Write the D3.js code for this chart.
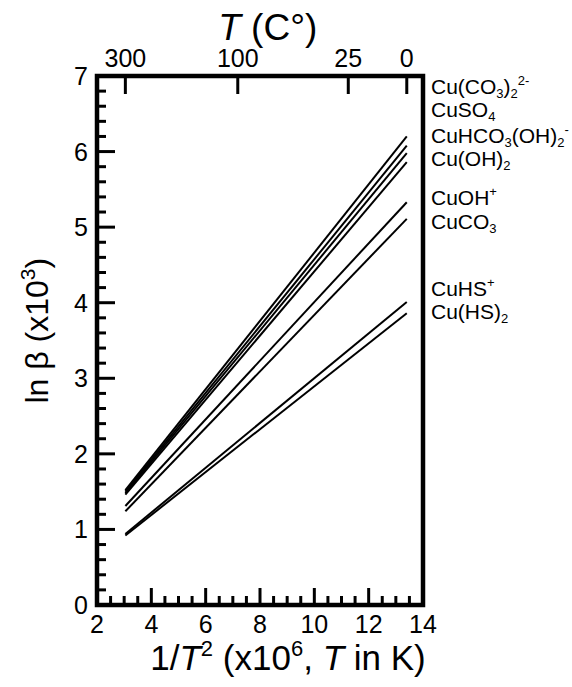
<!DOCTYPE html>
<html>
<head>
<meta charset="utf-8">
<script src="https://cdn.jsdelivr.net/npm/d3@7"></script>
<style>
  body { margin: 0; background: #fff; }
  text { font-family: 'Liberation Sans', Arial, sans-serif; fill: #000; }
</style>
</head>
<body>
<div id="chart"></div>
<script>
// species, in order from top to bottom at the right end
let species = ['Cu(CO3)2 2-', 'CuSO4', 'CuHCO3(OH)2 -', 'Cu(OH)2', 'CuOH+', 'CuCO3', 'CuHS+', 'Cu(HS)2']
// ln beta (x10^3) at 300 C and at 0 C
let lnBeta300 = [1.52, 1.50, 1.48, 1.46, 1.31, 1.24, 0.94, 0.92]
let lnBeta0 = [6.20, 6.08, 5.98, 5.86, 5.33, 5.11, 4.01, 3.86]
// temperatures (C) of the two ends and of the top ticks
let tEnds = [300, 0]
let topTicksC = [300, 100, 25, 0]
let xTicks = [2, 4, 6, 8, 10, 12, 14]
let yTicks = [0, 1, 2, 3, 4, 5, 6, 7]

// label text broken into pieces: 0 normal, -1 subscript, 1 superscript
let labelParts = [
  [['Cu(CO', 0], ['3', -1], [')', 0], ['2', -1], ['2-', 1]],
  [['CuSO', 0], ['4', -1]],
  [['CuHCO', 0], ['3', -1], ['(OH)', 0], ['2', -1], ['-', 1]],
  [['Cu(OH)', 0], ['2', -1]],
  [['CuOH', 0], ['+', 1]],
  [['CuCO', 0], ['3', -1]],
  [['CuHS', 0], ['+', 1]],
  [['Cu(HS)', 0], ['2', -1]]
]
// where the labels sit (y data units)
let labelAt = [6.76, 6.46, 6.12, 5.81, 5.29, 4.98, 4.09, 3.79]

let invT2 = t => 1e6 / Math.pow(t + 273.15, 2)

let margin = { top: 76, left: 97, right: 149, bottom: 82 }
let width = 572 - margin.left - margin.right
let height = 687 - margin.top - margin.bottom

let svg = d3.select('#chart')
  .append('svg')
  .attr('width', 572)
  .attr('height', 687)
  .append('g')
  .attr('transform', 'translate(' + margin.left + ',' + margin.top + ')')

let x = d3.scaleLinear().domain([2, 14]).range([0, width])
let y = d3.scaleLinear().domain([0, 7]).range([height, 0])

// data lines
let line = d3.line().x(d => x(d[0])).y(d => y(d[1]))
svg.selectAll('.species')
  .data(species)
  .enter()
  .append('path')
  .attr('class', 'species')
  .attr('d', (d, i) => line([[invT2(tEnds[0]), lnBeta300[i]], [invT2(tEnds[1]), lnBeta0[i]]]))
  .attr('fill', 'none')
  .attr('stroke', '#000')
  .attr('stroke-width', 2)

// ticks, drawn inward
let tickG = svg.append('g').attr('stroke', '#000').attr('stroke-width', 3)

let yMinor = d3.range(0, 7.001, 0.2)
tickG.selectAll('.ytick')
  .data(yMinor)
  .enter()
  .append('line')
  .attr('x1', 0)
  .attr('x2', d => Math.abs(d - Math.round(d)) < 1e-6 ? 18 : 9)
  .attr('y1', d => y(d))
  .attr('y2', d => y(d))

let xMinor = d3.range(2, 14.001, 0.5)
tickG.selectAll('.xtick')
  .data(xMinor)
  .enter()
  .append('line')
  .attr('x1', d => x(d))
  .attr('x2', d => x(d))
  .attr('y1', height)
  .attr('y2', d => d % 2 === 0 ? height - 17 : height - 9)

tickG.selectAll('.ttick')
  .data(topTicksC)
  .enter()
  .append('line')
  .attr('x1', d => x(invT2(d)))
  .attr('x2', d => x(invT2(d)))
  .attr('y1', 0)
  .attr('y2', 18)

// frame
svg.append('rect')
  .attr('width', width)
  .attr('height', height)
  .attr('fill', 'none')
  .attr('stroke', '#000')
  .attr('stroke-width', 4.5)

// tick labels
svg.selectAll('.ylab')
  .data(yTicks)
  .enter()
  .append('text')
  .attr('x', -9)
  .attr('y', d => y(d))
  .attr('dy', '0.36em')
  .attr('text-anchor', 'end')
  .style('font-size', '25px')
  .text(d => d)

svg.selectAll('.xlab')
  .data(xTicks)
  .enter()
  .append('text')
  .attr('x', d => x(d))
  .attr('y', height + 28)
  .attr('text-anchor', 'middle')
  .style('font-size', '25px')
  .text(d => d)

svg.selectAll('.tlab')
  .data(topTicksC)
  .enter()
  .append('text')
  .attr('x', d => x(invT2(d)))
  .attr('y', -9)
  .attr('text-anchor', 'middle')
  .style('font-size', '25px')
  .text(d => d)

// axis titles
let topTitle = svg.append('text')
  .attr('x', x(invT2(100)) + 30)
  .attr('y', -36)
  .attr('text-anchor', 'middle')
  .style('font-size', '37px')
topTitle.append('tspan').style('font-style', 'italic').text('T')
topTitle.append('tspan').text(' (C°)')

let botTitle = svg.append('text')
  .attr('x', x(8) + 28)
  .attr('y', height + 65)
  .attr('text-anchor', 'middle')
  .style('font-size', '35px')
botTitle.append('tspan').text('1/')
botTitle.append('tspan').style('font-style', 'italic').text('T')
botTitle.append('tspan').attr('dy', -14).style('font-size', '22px').text('2')
botTitle.append('tspan').attr('dy', 14).text(' (x10')
botTitle.append('tspan').attr('dy', -14).style('font-size', '22px').text('6')
botTitle.append('tspan').attr('dy', 14).text(', ')
botTitle.append('tspan').style('font-style', 'italic').text('T')
botTitle.append('tspan').text(' in K)')

let leftTitle = svg.append('text')
  .attr('transform', 'translate(' + (-49) + ',' + y(3.63) + ') rotate(-90)')
  .attr('text-anchor', 'middle')
  .style('font-size', '32px')
leftTitle.append('tspan').text('ln β (x10')
leftTitle.append('tspan').attr('dy', -13).style('font-size', '21px').text('3')
leftTitle.append('tspan').attr('dy', 13).text(')')

// species labels
let labels = svg.selectAll('.splab')
  .data(labelParts)
  .enter()
  .append('text')
  .attr('class', 'splab')
  .attr('x', width + 8)
  .attr('y', (d, i) => y(labelAt[i]))
  .attr('dy', '0.36em')
  .style('font-size', '21px')

labels.each(function (parts) {
  let t = d3.select(this)
  let cur = 0
  parts.forEach(p => {
    let shift = p[1] === -1 ? 4 : p[1] === 1 ? -9 : 0
    t.append('tspan')
      .attr('dy', shift - cur)
      .style('font-size', p[1] === 0 ? '21px' : '13px')
      .text(p[0])
    cur = shift
  })
})
</script>
</body>
</html>
